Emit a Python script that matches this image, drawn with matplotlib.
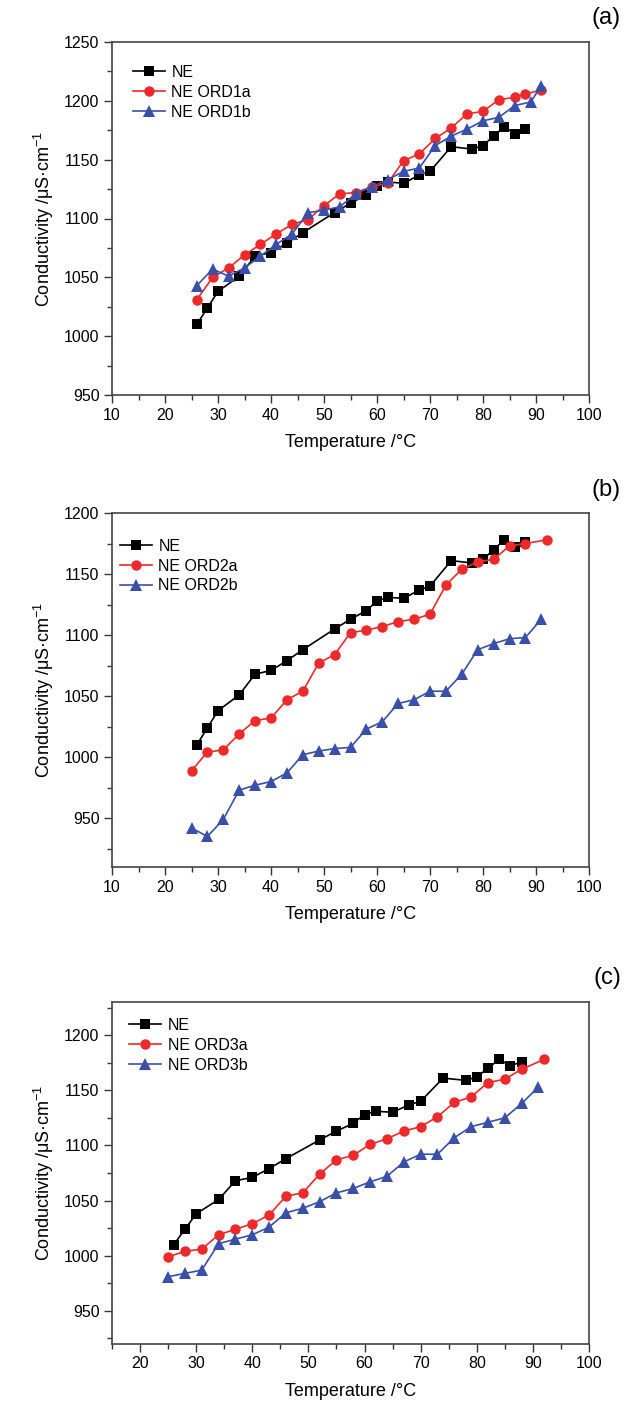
import matplotlib
matplotlib.use("Agg")
import matplotlib.pyplot as plt
from matplotlib.ticker import MultipleLocator

plt.rcParams['font.family'] = ['Liberation Sans', 'DejaVu Sans']
plt.rcParams['mathtext.fontset'] = 'custom'
plt.rcParams['mathtext.rm'] = 'Liberation Sans'
plt.rcParams['mathtext.it'] = 'Liberation Sans:italic'

# ---------------- data ----------------
ne_t = [26, 28, 30, 34, 37, 40, 43, 46, 52, 55, 58, 60, 62, 65, 68, 70, 74, 78, 80, 82, 84, 86, 88]
ne_v = [1010, 1024, 1038, 1051, 1068, 1071, 1079, 1088, 1105, 1113, 1120, 1128, 1131, 1130, 1137,
        1140, 1161, 1159, 1162, 1170, 1178, 1172, 1176]

ord1a_t = [26, 29, 32, 35, 38, 41, 44, 47, 50, 53, 56, 59, 62, 65, 68, 71, 74, 77, 80, 83, 86, 88, 91]
ord1a_v = [1031, 1050, 1058, 1069, 1078, 1087, 1095, 1099, 1111, 1121, 1122, 1127, 1130, 1149, 1155,
           1168, 1177, 1189, 1191, 1201, 1203, 1206, 1209]
ord1b_t = [26, 29, 32, 35, 38, 41, 44, 47, 50, 53, 56, 59, 62, 65, 68, 71, 74, 77, 80, 83, 86, 89, 91]
ord1b_v = [1043, 1057, 1051, 1058, 1068, 1078, 1087, 1105, 1107, 1110, 1121, 1127, 1133, 1140, 1143,
           1162, 1170, 1176, 1183, 1186, 1196, 1199, 1213]

ord2a_t = [25, 28, 31, 34, 37, 40, 43, 46, 49, 52, 55, 58, 61, 64, 67, 70, 73, 76, 79, 82, 85, 88, 92]
ord2a_v = [989, 1004, 1006, 1019, 1030, 1032, 1047, 1054, 1077, 1084, 1102, 1104, 1107, 1111, 1113,
           1117, 1141, 1154, 1160, 1162, 1173, 1175, 1178]
ord2b_t = [25, 28, 31, 34, 37, 40, 43, 46, 49, 52, 55, 58, 61, 64, 67, 70, 73, 76, 79, 82, 85, 88, 91]
ord2b_v = [942, 935, 949, 973, 977, 980, 987, 1002, 1005, 1007, 1008, 1023, 1029, 1044, 1047,
           1054, 1054, 1068, 1088, 1093, 1097, 1098, 1113]

ord3a_t = [25, 28, 31, 34, 37, 40, 43, 46, 49, 52, 55, 58, 61, 64, 67, 70, 73, 76, 79, 82, 85, 88, 92]
ord3a_v = [999, 1004, 1006, 1019, 1024, 1029, 1037, 1054, 1057, 1074, 1087, 1091, 1101, 1106, 1113,
           1117, 1126, 1139, 1144, 1157, 1160, 1169, 1178]
ord3b_t = [25, 28, 31, 34, 37, 40, 43, 46, 49, 52, 55, 58, 61, 64, 67, 70, 73, 76, 79, 82, 85, 88, 91]
ord3b_v = [981, 984, 987, 1011, 1015, 1019, 1026, 1039, 1043, 1049, 1057, 1061, 1067, 1072, 1085,
           1092, 1092, 1107, 1117, 1121, 1125, 1138, 1153]

panel_labels = ['(a)', '(b)', '(c)']
series_names = [['NE', 'NE ORD1a', 'NE ORD1b'],
                ['NE', 'NE ORD2a', 'NE ORD2b'],
                ['NE', 'NE ORD3a', 'NE ORD3b']]
xlabel = 'Temperature /°C'
ylabel = 'Conductivity /μS·cm$^{-1}$'

# ---------------- styling ----------------
BLACK = '#000000'
RED = '#ec2a2a'
BLUE = '#3a50a8'
W, H = 626, 1404

fig = plt.figure(figsize=(W / 100, H / 100), dpi=100)


def axes_px(left, top, right, bottom):
    return fig.add_axes([left / W, 1 - bottom / H, (right - left) / W, (bottom - top) / H])


panels = [
    dict(box=(112, 42, 589, 395), xlim=(10, 100), ylim=(950, 1250),
         data=[(ne_t, ne_v), (ord1a_t, ord1a_v), (ord1b_t, ord1b_v)],
         leg=(0.044, 0.935), label_y=18),
    dict(box=(112, 513, 589, 867), xlim=(10, 100), ylim=(910, 1200),
         data=[(ne_t, ne_v), (ord2a_t, ord2a_v), (ord2b_t, ord2b_v)],
         leg=(0.017, 0.927), label_y=490),
    dict(box=(112, 1002, 589, 1344), xlim=(15, 100), ylim=(920, 1230),
         data=[(ne_t, ne_v), (ord3a_t, ord3a_v), (ord3b_t, ord3b_v)],
         leg=(0.036, 0.953), label_y=978),
]

styles = [dict(color=BLACK, marker='s', markersize=6.5),
          dict(color=RED, marker='o', markersize=7.5),
          dict(color=BLUE, marker='^', markersize=8.5)]

for i, p in enumerate(panels):
    ax = axes_px(*p['box'])
    for (t, v), st, name in zip(p['data'], styles, series_names[i]):
        ax.plot(t, v, color=st['color'], marker=st['marker'], markersize=st['markersize'],
                linewidth=1.2, markeredgewidth=0, label=name)
    ax.set_xlim(*p['xlim'])
    ax.set_ylim(*p['ylim'])
    ax.xaxis.set_major_locator(MultipleLocator(10))
    ax.xaxis.set_minor_locator(MultipleLocator(5))
    ax.yaxis.set_major_locator(MultipleLocator(50))
    ax.yaxis.set_minor_locator(MultipleLocator(25))
    ax.tick_params(which='both', direction='out', top=False, right=False,
                   labelsize=11.5, width=1.0, color='#333333', pad=3)
    ax.tick_params(which='major', length=6)
    ax.tick_params(which='minor', length=3.5)
    for s in ax.spines.values():
        s.set_linewidth(1.2)
        s.set_color('#444444')
    ax.set_xlabel(xlabel, fontsize=13, labelpad=8)
    ax.set_ylabel(ylabel, fontsize=13, labelpad=6)
    ax.legend(loc='upper left', bbox_to_anchor=p['leg'], frameon=False, fontsize=11.5,
              borderpad=0, borderaxespad=0, labelspacing=0.3, handlelength=2.0,
              handletextpad=0.4)
    fig.text(621 / W, 1 - p['label_y'] / H, panel_labels[i], ha='right', va='center',
             fontsize=17)

fig.savefig('out.png', dpi=100, facecolor='white')
